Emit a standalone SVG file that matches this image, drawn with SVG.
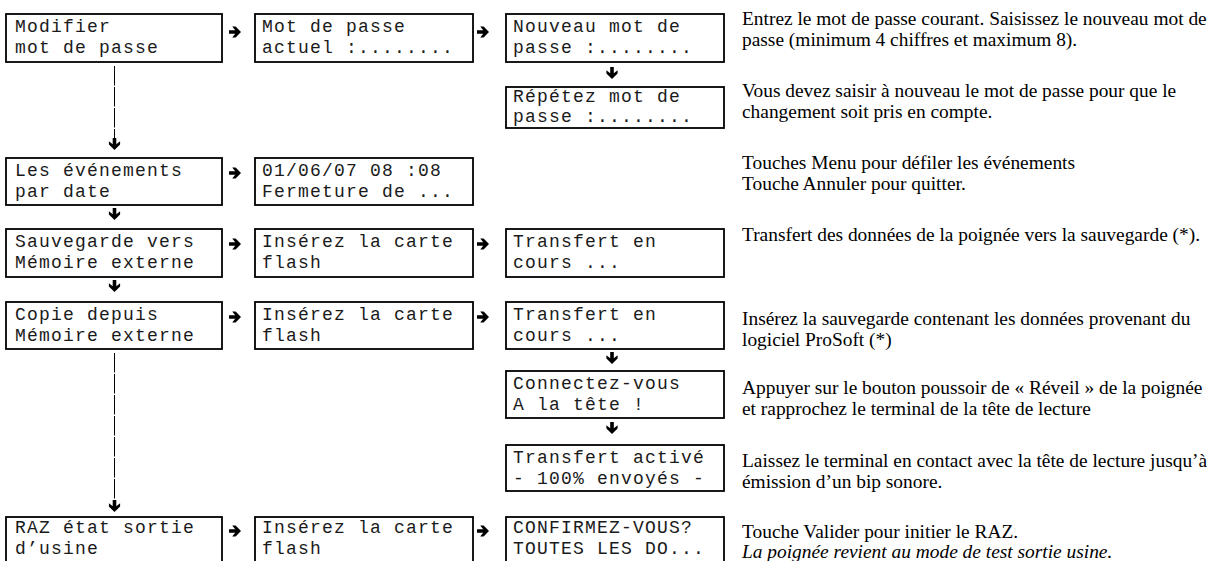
<svg xmlns="http://www.w3.org/2000/svg" width="1232" height="561" viewBox="0 0 1232 561">
<style>
.box{fill:#fff;stroke:#000;stroke-width:1.8}
.m{font-family:"Liberation Mono","Courier New",monospace;font-size:18px;letter-spacing:1.2px;fill:#1a1a1a}
.d{font-family:"Liberation Serif","Times New Roman",serif;font-size:19.4px;fill:#000}
.it{font-style:italic}
.ln{stroke:#000;stroke-width:1;fill:none;stroke-dasharray:19.5 1.5}
</style>
<defs>
<path id="ar" d="M0,-1.8 H6.2 L3.2,-5.6 H6.6 L12,0 L6.6,5.6 H3.2 L6.2,1.8 H0 Z" fill="#000"/>
<use id="ad" href="#ar" transform="rotate(90)"/>
</defs>
<rect width="1232" height="561" fill="#fff"/>

<g id="connectors">
  <path class="ln" d="M114.5,66 V139"/>
  <use href="#ad" transform="translate(114.5,138)"/>
  <path class="ln" d="M114.5,353 V501"/>
  <use href="#ad" transform="translate(114.5,500)"/>
  <use href="#ad" transform="translate(114.5,208)"/>
  <use href="#ad" transform="translate(114.5,280)"/>
  <use href="#ad" transform="translate(612,67)"/>
  <use href="#ad" transform="translate(612,352)"/>
  <use href="#ad" transform="translate(612,422)"/>
  <use href="#ar" transform="translate(229,32)"/>
  <use href="#ar" transform="translate(477,32)"/>
  <use href="#ar" transform="translate(229,173)"/>
  <use href="#ar" transform="translate(229,244)"/>
  <use href="#ar" transform="translate(477,244)"/>
  <use href="#ar" transform="translate(229,317)"/>
  <use href="#ar" transform="translate(477,317)"/>
  <use href="#ar" transform="translate(229,531)"/>
  <use href="#ar" transform="translate(477,531)"/>
</g>

<g id="n1"><rect class="box" x="6" y="14" width="216" height="48"/><text class="m" x="15" y="32">Modifier</text><text class="m" x="15" y="53">mot de passe</text></g>
<g id="n2"><rect class="box" x="255" y="14" width="218" height="48"/><text class="m" x="262" y="32">Mot de passe</text><text class="m" x="262" y="53">actuel :........</text></g>
<g id="n3"><rect class="box" x="506" y="14" width="218" height="48"/><text class="m" x="513" y="32">Nouveau mot de</text><text class="m" x="513" y="53">passe :........</text></g>
<g id="n4"><rect class="box" x="506" y="87" width="218" height="41"/><text class="m" x="513" y="102">Répétez mot de</text><text class="m" x="513" y="122">passe :........</text></g>
<g id="n5"><rect class="box" x="6" y="158" width="216" height="47"/><text class="m" x="15" y="176">Les événements</text><text class="m" x="15" y="197">par date</text></g>
<g id="n6"><rect class="box" x="255" y="158" width="218" height="47"/><text class="m" x="262" y="176">01/06/07 08 :08</text><text class="m" x="262" y="197">Fermeture de ...</text></g>
<g id="n7"><rect class="box" x="6" y="229" width="216" height="48"/><text class="m" x="15" y="247">Sauvegarde vers</text><text class="m" x="15" y="268">Mémoire externe</text></g>
<g id="n8"><rect class="box" x="255" y="229" width="218" height="48"/><text class="m" x="262" y="247">Insérez la carte</text><text class="m" x="262" y="268">flash</text></g>
<g id="n9"><rect class="box" x="506" y="229" width="218" height="48"/><text class="m" x="513" y="247">Transfert en</text><text class="m" x="513" y="268">cours ...</text></g>
<g id="n10"><rect class="box" x="6" y="302" width="216" height="47"/><text class="m" x="15" y="320">Copie depuis</text><text class="m" x="15" y="341">Mémoire externe</text></g>
<g id="n11"><rect class="box" x="255" y="302" width="218" height="47"/><text class="m" x="262" y="320">Insérez la carte</text><text class="m" x="262" y="341">flash</text></g>
<g id="n12"><rect class="box" x="506" y="302" width="218" height="47"/><text class="m" x="513" y="320">Transfert en</text><text class="m" x="513" y="341">cours ...</text></g>
<g id="n13"><rect class="box" x="506" y="371" width="218" height="47"/><text class="m" x="513" y="389">Connectez-vous</text><text class="m" x="513" y="410">A la tête !</text></g>
<g id="n14"><rect class="box" x="506" y="445" width="218" height="46"/><text class="m" x="513" y="463">Transfert activé</text><text class="m" x="513" y="484">- 100% envoyés -</text></g>
<g id="n15"><rect class="box" x="6" y="517" width="216" height="50"/><text class="m" x="15" y="533">RAZ état sortie</text><text class="m" x="15" y="554">d’usine</text></g>
<g id="n16"><rect class="box" x="255" y="517" width="218" height="50"/><text class="m" x="262" y="533">Insérez la carte</text><text class="m" x="262" y="554">flash</text></g>
<g id="n17"><rect class="box" x="506" y="517" width="218" height="50"/><text class="m" x="513" y="533">CONFIRMEZ-VOUS?</text><text class="m" x="513" y="554">TOUTES LES DO...</text></g>

<g id="notes">
  <text class="d" x="742" y="25">Entrez le mot de passe courant. Saisissez le nouveau mot de</text>
  <text class="d" x="742" y="46">passe (minimum 4 chiffres et maximum 8).</text>
  <text class="d" x="742" y="97">Vous devez saisir à nouveau le mot de passe pour que le</text>
  <text class="d" x="742" y="118">changement soit pris en compte.</text>
  <text class="d" x="742" y="169">Touches Menu pour défiler les événements</text>
  <text class="d" x="742" y="190">Touche Annuler pour quitter.</text>
  <text class="d" x="742" y="241">Transfert des données de la poignée vers la sauvegarde (*).</text>
  <text class="d" x="742" y="325">Insérez la sauvegarde contenant les données provenant du</text>
  <text class="d" x="742" y="346">logiciel ProSoft (*)</text>
  <text class="d" x="742" y="394">Appuyer sur le bouton poussoir de « Réveil » de la poignée</text>
  <text class="d" x="742" y="415">et rapprochez le terminal de la tête de lecture</text>
  <text class="d" x="742" y="467">Laissez le terminal en contact avec la tête de lecture jusqu’à</text>
  <text class="d" x="742" y="488">émission d’un bip sonore.</text>
  <text class="d" x="742" y="538">Touche Valider pour initier le RAZ.</text>
  <text class="d it" x="742" y="558">La poignée revient au mode de test sortie usine.</text>
</g>
</svg>
